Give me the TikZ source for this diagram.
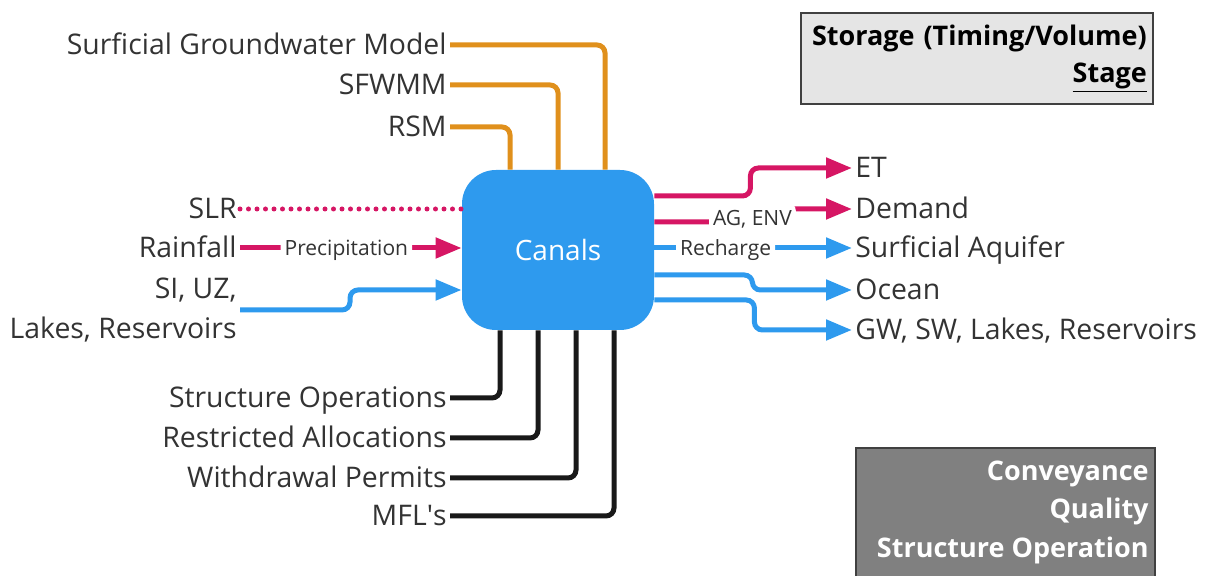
\documentclass[tikz,border=0pt]{standalone}
\usepackage{fontspec}
\setmainfont{Open Sans}
\newfontfamily\rawfont{Open Sans}[Ligatures=TeXOff]
\usepackage{xcolor}
\usetikzlibrary{arrows.meta,positioning,calc}
\definecolor{canalblue}{RGB}{46,154,238}
\definecolor{flowred}{RGB}{214,22,100}
\definecolor{modelorange}{RGB}{224,144,28}
\definecolor{txtgray}{RGB}{51,51,51}
\begin{document}
\begin{tikzpicture}[x=0.5pt, y=-0.5pt,
  hub/.style={fill=canalblue, rounded corners=17pt, minimum width=96pt,
              minimum height=80pt, text=white, font=\fontsize{14}{17}\selectfont},
  srcml/.style={anchor=east, inner sep=1.5pt, text=txtgray, align=right,
              font=\fontsize{14.2}{20}\selectfont},
  src/.style={srcml, text height=13pt, text depth=3pt},
  dst/.style={anchor=west, inner sep=1.5pt, text=txtgray,
              text height=13pt, text depth=3pt,
              font=\fontsize{14.2}{20}\selectfont},
  lbl/.style={fill=white, inner sep=2pt, text=txtgray,
              text height=9.5pt, text depth=2pt,
              font=\fontsize{10.5}{12}\selectfont},
  ln/.style={line width=2.5pt, rounded corners=4pt},
  ar/.style={ln, -{Triangle[length=13pt, width=10pt]}},
  infobox/.style={draw=black!75, line width=1.2pt, fill=black!10, align=right,
                  text width=170pt, inner xsep=3pt, minimum height=45.5pt,
                  font=\fontsize{13.5}{18.5}\selectfont\bfseries},
  qualtxt/.style={text=white, align=right, inner sep=0pt,
                  font=\fontsize{13.5}{19.25}\selectfont\bfseries}
]
\clip (0,0) rectangle (1207,576);

% --- hub ----------------------------------------------------------------
\node[hub] (canals) at (558,250) {Canals};

% --- models (top) -------------------------------------------------------
\node[src] (sgm)   at (450,45)  {Surficial Groundwater Model};
\node[src] (sfwmm) at (450,85)  {SFWMM};
\node[src] (rsm)   at (450,127) {RSM};

\draw[ln, modelorange] (sgm.east)   -| ([xshift=23.5pt]canals.north);
\draw[ln, modelorange] (sfwmm.east) -| (canals.north);
\draw[ln, modelorange] (rsm.east)   -| ([xshift=-24pt]canals.north);

% --- inflows (left) -----------------------------------------------------
\node[src]   (slr)      at (240,209) {SLR};
\node[src]   (rainfall) at (240,248) {Rainfall};
\node[srcml] (siuz)     at (240,310) {SI, UZ,\\Lakes, Reservoirs};

\draw[ln, flowred, dash pattern=on 0pt off 4.25pt, line cap=round]
  (slr.east) -- (slr.east -| canals.west);
\draw[ar, flowred] (rainfall.east) -- node[lbl, pos=0.48] {Precipitation}
  (rainfall.east -| canals.west);
\draw[ar, canalblue] (siuz.east) -- ++(110,0) |- ([yshift=-20pt]canals.west);

% --- outflows (right) ---------------------------------------------------
\node[dst] (et)     at (852,168) {ET};
\node[dst] (demand) at (852,209) {Demand};
\node[dst] (aquif)  at (852,248) {Surficial Aquifer};
\node[dst] (ocean)  at (852,290) {Ocean};
\node[dst] (gwsw)   at (852,330) {GW, SW, Lakes, Reservoirs};

\draw[ar, flowred] ([yshift=27pt]canals.east) -- ++(96,0) |- (et.west);
\draw[ar, flowred] ([yshift=14pt]canals.east) -- ++(98,0)
  node[lbl, yshift=2pt] {AG, ENV} |- (demand.west);
\draw[ar, canalblue] (canals.east |- aquif.west) -- node[lbl, pos=0.36] {Recharge}
  (aquif.west);
\draw[ar, canalblue] ([yshift=-12.5pt]canals.east) -- ++(98,0) |- (ocean.west);
\draw[ar, canalblue] ([yshift=-25pt]canals.east) -- ++(100,0) |- (gwsw.west);

% --- operations (bottom) ------------------------------------------------
\node[src] (strop)   at (450,398) {Structure Operations};
\node[src] (restr)   at (450,438) {Restricted Allocations};
\node[src] (permits) at (450,478) {Withdrawal Permits};
\node[src] (mfl)     at (450,516) {MFL{\rawfont'}s};

\draw[ln, black!90] (strop.east)   -| ([xshift=-29pt]canals.south);
\draw[ln, black!90] (restr.east)   -| ([xshift=-10pt]canals.south);
\draw[ln, black!90] (permits.east) -| ([xshift=9pt]canals.south);
\draw[ln, black!90] (mfl.east)     -| ([xshift=28pt]canals.south);

% --- side boxes ---------------------------------------------------------
\node[infobox, anchor=north east] (storage) at (1154,12)
  {Storage (Timing/Volume)\\\underline{Stage}};
\draw[draw=black!75, line width=1.2pt, fill=black!50] (856,448) rectangle (1155,600);
\node[qualtxt, anchor=east] (quality) at (1149,512)
  {Conveyance\\Quality\\Structure Operation};
\end{tikzpicture}
\end{document}
